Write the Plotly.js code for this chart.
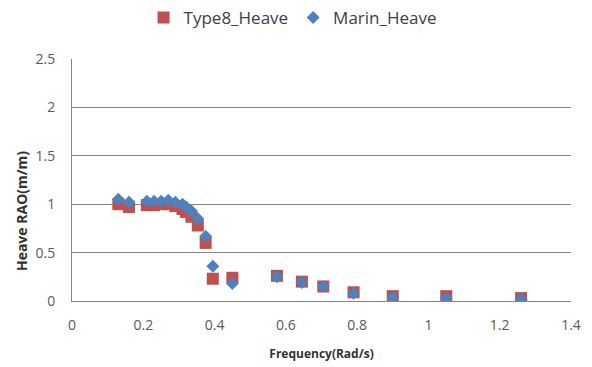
<!DOCTYPE html>
<html>
<head>
<meta charset="utf-8">
<script src="https://cdn.plot.ly/plotly-3.0.1.min.js"></script>
<style>html,body{margin:0;padding:0;background:#fff;}#chart{width:592px;height:367px;}</style>
</head>
<body>
<div id="chart"></div>
<script>
const freqType8 = [0.13, 0.16, 0.21, 0.23, 0.25, 0.27, 0.29, 0.31, 0.32, 0.335, 0.353, 0.375, 0.395, 0.45, 0.575, 0.645, 0.705, 0.79, 0.9, 1.05, 1.26];
const heaveType8 = [1.0, 0.97, 0.99, 0.99, 1.0, 1.0, 0.98, 0.95, 0.92, 0.87, 0.78, 0.6, 0.23, 0.24, 0.26, 0.2, 0.15, 0.09, 0.05, 0.05, 0.03];
const freqMarin = [0.13, 0.16, 0.21, 0.23, 0.25, 0.27, 0.29, 0.31, 0.32, 0.335, 0.353, 0.375, 0.395, 0.45, 0.575, 0.645, 0.705, 0.79, 0.9, 1.05, 1.26];
const heaveMarin = [1.05, 1.02, 1.03, 1.03, 1.03, 1.04, 1.02, 1.0, 0.97, 0.93, 0.85, 0.67, 0.36, 0.18, 0.25, 0.19, 0.15, 0.08, 0.04, 0.03, 0.02];
const seriesNames = ['Type8_Heave', 'Marin_Heave'];
const xTicks = [0, 0.2, 0.4, 0.6, 0.8, 1, 1.2, 1.4];
const yTicks = [0, 0.5, 1, 1.5, 2, 2.5];

const traces = [
  {x: freqType8, y: heaveType8, name: seriesNames[0], type: 'scatter', mode: 'markers',
   marker: {symbol: 'square', size: 12, color: '#C0504D'}},
  {x: freqMarin, y: heaveMarin, name: seriesNames[1], type: 'scatter', mode: 'markers',
   marker: {symbol: 'diamond', size: 10, color: '#4F81BD'}}
];
const layout = {
  width: 592, height: 367,
  margin: {l: 72, r: 21, t: 59, b: 66},
  paper_bgcolor: '#fff', plot_bgcolor: '#fff',
  font: {family: 'Open Sans, Liberation Sans, sans-serif', color: '#595959'},
  showlegend: true,
  legend: {orientation: 'h', xref: 'paper', x: 0.442, xanchor: 'center',
           yref: 'container', y: 0.951, yanchor: 'middle',
           font: {size: 17, color: '#404040'}, itemwidth: 30},
  xaxis: {range: [0, 1.4], tickvals: xTicks, ticktext: xTicks.map(String),
          showgrid: false, zeroline: false, showline: true, linecolor: '#868686', linewidth: 1,
          ticks: '', ticklabelstandoff: 11, tickfont: {size: 14, color: '#595959'},
          title: {text: 'Frequency(Rad/s)', font: {size: 12, color: '#333', weight: 'bold'}, standoff: 16}},
  yaxis: {range: [0, 2.5], tickvals: yTicks, ticktext: yTicks.map(String),
          showgrid: true, gridcolor: '#868686', gridwidth: 1, zeroline: false,
          showline: true, linecolor: '#868686', linewidth: 1,
          ticks: '', ticklabelstandoff: 13, tickfont: {size: 14, color: '#595959'}},
  annotations: [{text: 'Heave RAO(m/m)', textangle: -90, xref: 'paper', yref: 'paper',
                 x: -0.1, y: 0.372, xanchor: 'center', yanchor: 'middle', showarrow: false,
                 font: {size: 14, color: '#333', weight: 'bold'}}]
};
Plotly.newPlot('chart', traces, layout, {displayModeBar: false, staticPlot: true});
</script>
</body>
</html>
